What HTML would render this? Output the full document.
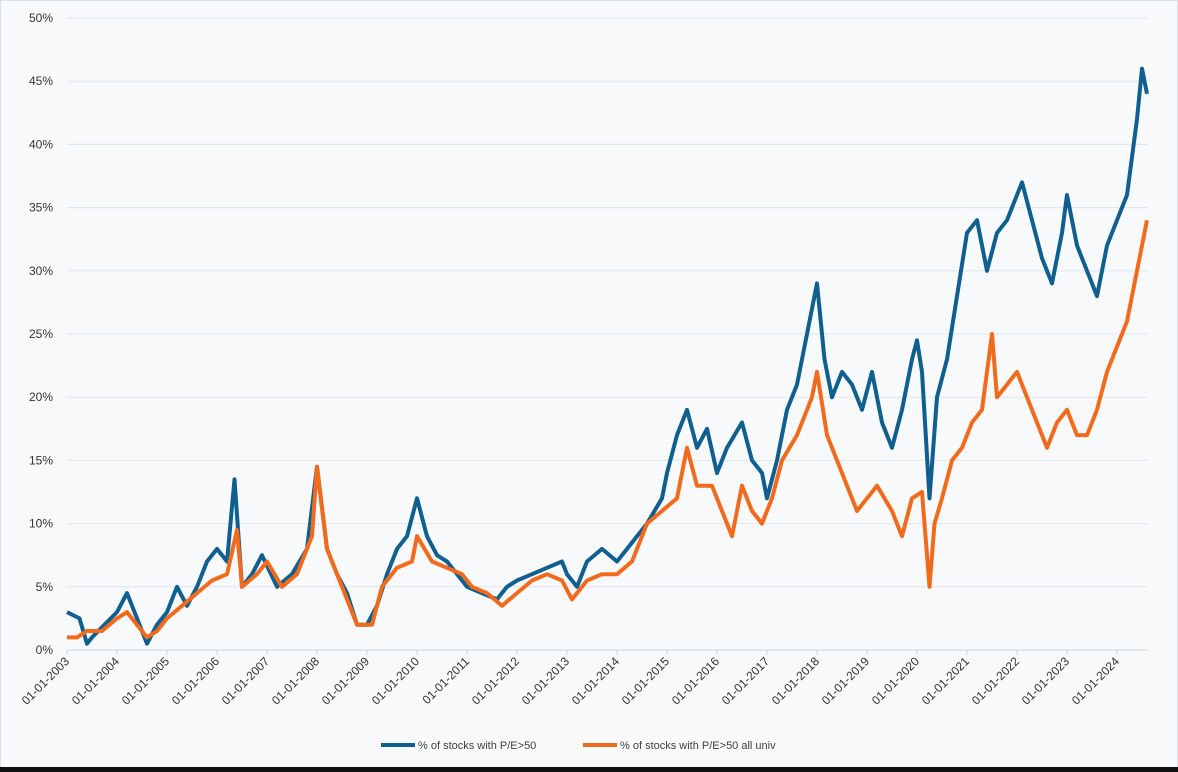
<!DOCTYPE html>
<html><head><meta charset="utf-8"><style>
body{margin:0;width:1178px;height:772px;background:#f8f9fb;overflow:hidden;font-family:"Liberation Sans",sans-serif}
svg{display:block}
</style></head><body>
<svg id="chart" width="1178" height="772" xmlns="http://www.w3.org/2000/svg">
<rect x="0.5" y="0.5" width="1177" height="767" fill="#f8f9fb" stroke="#d7e1ee"/>
<rect x="0" y="767" width="1178" height="5" fill="#111"/>
<g id="grid"></g><g id="axes"></g><g id="series"></g>
<g>
<line x1="381" y1="745" x2="415" y2="745" stroke="#0f5f8f" stroke-width="4"/>
<text x="418" y="749" font-size="11" fill="#404040">% of stocks with P/E&gt;50</text>
<line x1="583" y1="745" x2="617" y2="745" stroke="#f26b1d" stroke-width="4"/>
<text x="620" y="749" font-size="11" fill="#404040">% of stocks with P/E&gt;50 all univ</text>
</g>
</svg>
<script>
const yTicks=[0,5,10,15,20,25,30,35,40,45,50];
const years=[2003,2004,2005,2006,2007,2008,2009,2010,2011,2012,2013,2014,2015,2016,2017,2018,2019,2020,2021,2022,2023,2024];
const blueT=[2003.0,2003.25,2003.4,2003.5,2003.75,2004.0,2004.2,2004.4,2004.6,2004.8,2005.0,2005.2,2005.4,2005.6,2005.8,2006.0,2006.2,2006.35,2006.5,2006.7,2006.9,2007.2,2007.5,2007.8,2008.0,2008.2,2008.4,2008.6,2008.8,2009.0,2009.2,2009.4,2009.6,2009.8,2010.0,2010.2,2010.4,2010.6,2010.8,2011.0,2011.3,2011.6,2011.8,2012.0,2012.3,2012.6,2012.9,2013.0,2013.2,2013.4,2013.7,2014.0,2014.3,2014.6,2014.9,2015.0,2015.2,2015.4,2015.6,2015.8,2016.0,2016.2,2016.5,2016.7,2016.9,2017.0,2017.2,2017.4,2017.6,2017.8,2018.0,2018.15,2018.3,2018.5,2018.7,2018.9,2019.1,2019.3,2019.5,2019.7,2019.9,2020.0,2020.1,2020.25,2020.4,2020.6,2020.8,2021.0,2021.2,2021.4,2021.6,2021.8,2022.0,2022.1,2022.3,2022.5,2022.7,2022.9,2023.0,2023.2,2023.4,2023.6,2023.8,2024.0,2024.2,2024.4,2024.5,2024.6];
const blueV=[3,2.5,0.5,1,2,3,4.5,2.5,0.5,2,3,5,3.5,5,7,8,7,13.5,5,6,7.5,5,6,8,14.5,8,6,4.5,2,2,3.5,6,8,9,12,9,7.5,7,6,5,4.5,4,5,5.5,6,6.5,7,6,5,7,8,7,8.5,10,12,14,17,19,16,17.5,14,16,18,15,14,12,15,19,21,25,29,23,20,22,21,19,22,18,16,19,23,24.5,22,12,20,23,28,33,34,30,33,34,36,37,34,31,29,33,36,32,30,28,32,34,36,42,46,44];
const orangeT=[2003.0,2003.2,2003.4,2003.7,2004.0,2004.2,2004.4,2004.6,2004.8,2005.0,2005.3,2005.6,2005.9,2006.2,2006.4,2006.5,2006.8,2007.0,2007.3,2007.6,2007.9,2008.0,2008.2,2008.4,2008.6,2008.8,2009.1,2009.3,2009.6,2009.9,2010.0,2010.3,2010.6,2010.9,2011.1,2011.4,2011.7,2012.0,2012.3,2012.6,2012.9,2013.1,2013.4,2013.7,2014.0,2014.3,2014.6,2014.9,2015.2,2015.4,2015.6,2015.9,2016.1,2016.3,2016.5,2016.7,2016.9,2017.1,2017.3,2017.6,2017.9,2018.0,2018.2,2018.4,2018.6,2018.8,2019.0,2019.2,2019.5,2019.7,2019.9,2020.1,2020.25,2020.35,2020.5,2020.7,2020.9,2021.1,2021.3,2021.5,2021.6,2021.8,2022.0,2022.2,2022.4,2022.6,2022.8,2023.0,2023.2,2023.4,2023.6,2023.8,2024.0,2024.2,2024.4,2024.5,2024.6];
const orangeV=[1,1,1.5,1.5,2.5,3,2,1,1.5,2.5,3.5,4.5,5.5,6,9.5,5,6,7,5,6,9,14.5,8,6,4,2,2,5,6.5,7,9,7,6.5,6,5,4.5,3.5,4.5,5.5,6,5.5,4,5.5,6,6,7,10,11,12,16,13,13,11,9,13,11,10,12,15,17,20,22,17,15,13,11,12,13,11,9,12,12.5,5,10,12,15,16,18,19,25,20,21,22,20,18,16,18,19,17,17,19,22,24,26,30,32,34];

const NS='http://www.w3.org/2000/svg';
const X0=67,PXY=50,Y0=650,PXP=12.64;
const xs=t=>X0+(t-2003)*PXY, ys=v=>Y0-v*PXP;
const grid=document.getElementById('grid'),axes=document.getElementById('axes'),ser=document.getElementById('series');
function mk(tag,attrs,parent){const e=document.createElementNS(NS,tag);for(const k in attrs)e.setAttribute(k,attrs[k]);parent.appendChild(e);return e;}
yTicks.forEach(v=>{
  const l=mk('line',{x1:X0,x2:1148,y1:ys(v),y2:ys(v),stroke:v===0?'#c9d6e6':'#dde6f1','stroke-width':1},grid);
  
  
  const t=mk('text',{x:53,y:ys(v)+4,'text-anchor':'end','font-size':12,fill:'#333'},axes);
  t.textContent=v+'%';
  
  
});
years.forEach(y=>{
  const x=xs(y);
  const tk=mk('line',{x1:x,x2:x,y1:Y0,y2:Y0+5,stroke:'#c9d6e6'},axes);
  
  
  const t=mk('text',{x:x+3,y:Y0+12,'text-anchor':'end','font-size':12,fill:'#333',transform:`rotate(-45 ${x+3} ${Y0+12})`},axes);
  t.textContent='01-01-'+y;
  
  
});
function line(T,V,color,name){
  const d=T.map((t,i)=>(i?'L':'M')+xs(t).toFixed(1)+' '+ys(V[i]).toFixed(1)).join(' ');
  const p=mk('path',{d:d,fill:'none',stroke:color,'stroke-width':4,'stroke-linejoin':'round'},ser);
  
  
}
line(blueT,blueV,'#0f5f8f','series-pe50');
line(orangeT,orangeV,'#f26b1d','series-pe50-all-univ');
</script>
</body></html>
